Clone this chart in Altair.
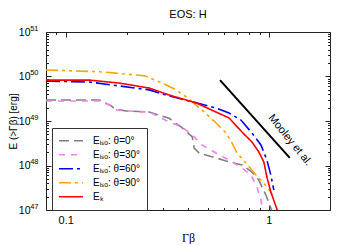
import altair as alt
import pandas as pd

# ---------------- data ----------------
series_names = ["Eᵢₛₒ: θ=0°", "Eᵢₛₒ: θ=30°", "Eᵢₛₒ: θ=60°", "Eᵢₛₒ: θ=90°", "Eₖ"]
series_colors = ["#808080", "#ee82ee", "#0000ff", "#ffa500", "#ff0000"]
series_dashes = [[10, 5], [6, 6], [14, 4, 3, 4], [12, 4, 3, 4, 3, 4], [1, 0]]

gb_0 = [0.08, 0.147, 0.168, 0.174, 0.199, 0.258, 0.323, 0.375, 0.42, 0.429, 0.454,
        0.55, 0.616, 0.738, 0.826, 0.893, 0.967, 1.023, 1.03]
e_0 = [2.96e49, 2.96e49, 2.17e49, 1.86e49, 1.68e49, 1.59e49, 1.15e49, 7.0e48, 4.37e48,
       2.47e48, 1.91e48, 1.48e48, 1.26e48, 1.03e48, 7.1e47, 4.7e47, 2.17e47, 1.11e47, 1.0e47]

gb_30 = [0.08, 0.147, 0.168, 0.178, 0.199, 0.258, 0.323, 0.375, 0.42, 0.469, 0.55,
         0.637, 0.738, 0.816, 0.873, 0.914, 0.93]
e_30 = [2.82e49, 2.82e49, 2.17e49, 1.77e49, 1.68e49, 1.59e49, 9.5e48, 7.3e48, 4.84e48,
        2.89e48, 1.91e48, 1.33e48, 8.8e47, 6.1e47, 3.3e47, 1.68e47, 1.0e47]

gb_60 = [0.08, 0.131, 0.258, 0.323, 0.444, 0.55, 0.637, 0.729, 0.826, 0.914, 0.978,
         1.023, 1.058]
e_60 = [7.9e49, 7.5e49, 5.0e49, 3.65e49, 2.54e49, 1.96e49, 1.51e49, 1.05e49, 5.37e48,
        2.89e48, 1.33e48, 6.1e47, 2.8e47]

gb_90 = [0.08, 0.147, 0.244, 0.299, 0.35, 0.392, 0.469, 0.55, 0.616, 0.659, 0.697,
         0.771, 0.864, 0.945, 1.023, 1.034]
e_90 = [1.40e50, 1.28e50, 1.04e50, 7.1e49, 5.0e49, 3.46e49, 1.77e49, 9.0e48, 5.37e48,
        3.2e48, 1.91e48, 1.14e48, 6.1e47, 4.0e47, 2.54e47, 2.17e47]

gb_k = [0.08, 0.131, 0.184, 0.258, 0.323, 0.439, 0.637, 0.738, 0.826, 0.893, 0.945,
        0.978, 1.023, 1.1]
e_k = [8.3e49, 8.3e49, 7.1e49, 5.5e49, 3.84e49, 2.54e49, 1.17e49, 5.66e48, 3.37e48,
       2.01e48, 1.2e48, 5.5e47, 2.54e47, 1.0e47]

gb_mooley = [0.575, 1.268]
e_mooley = [8.3e49, 1.48e48]
mooley_label = ["Mooley et al."]
mooley_label_gb = [1.27]
mooley_label_e = [3.7e48]

x_major = [0.1, 1]
x_minor = [0.09, 0.2, 0.3, 0.4, 0.5, 0.6, 0.7, 0.8, 0.9, 2]
y_major = [1e47, 1e48, 1e49, 1e50, 1e51]
y_minor = [k * 10.0 ** p for p in range(47, 51) for k in range(2, 10)]

# ---------------- tables ----------------
rows = []
for name, xs, ys in zip(series_names, [gb_0, gb_30, gb_60, gb_90, gb_k],
                        [e_0, e_30, e_60, e_90, e_k]):
    for a, b in zip(xs, ys):
        rows.append({"series": name, "gb": a, "E": b})
df = pd.DataFrame(rows)
df_m = pd.DataFrame({"gb": gb_mooley, "E": e_mooley})
df_t = pd.DataFrame({"gb": mooley_label_gb, "E": mooley_label_e, "t": mooley_label})

FONT = "Liberation Sans"
xscale = alt.Scale(type="log", domain=[0.08, 2.0], nice=False)
yscale = alt.Scale(type="log", domain=[1e47, 1e51], nice=False)

MAJ, MIN = 5, 2.5


def ax(orient, values, size, labels=False, **kw):
    return alt.Axis(orient=orient, values=values, tickSize=size, offset=-size,
                    domain=False, grid=False, labels=labels, tickColor="#222",
                    tickWidth=1, labelFlush=False, labelOverlap=False, **kw)


legend_kw = dict(orient="none", legendX=6, legendY=96, title=None,
                 symbolType="stroke", symbolSize=576, symbolStrokeWidth=1.6,
                 labelFont=FONT, labelFontSize=10, labelColor="black",
                 strokeColor="#333", fillColor="white", padding=6, rowPadding=0,
                 clipHeight=13.5, labelOffset=9)

lines = alt.Chart(df).mark_line(clip=True, strokeWidth=1.6).encode(
    x=alt.X("gb:Q", scale=xscale,
            axis=ax("bottom", x_major, MAJ, labels=True, format="~g",
                    labelFont=FONT, labelFontSize=11, labelPadding=4,
                    labelColor="black", title="Γβ", titleFont="Liberation Serif",
                    titleFontSize=12, titleFontWeight="normal",
                    titleBaseline="middle", titleY=32, titleColor="black")),
    y=alt.Y("E:Q", scale=yscale,
            axis=ax("left", y_major, MAJ, labels=True, labelExpr="'10'",
                    labelFont=FONT, labelFontSize=10.5, labelPadding=16,
                    labelColor="black", title="E (>Γβ) [erg]", titleFont=FONT,
                    titleFontSize=10, titleFontWeight="normal",
                    titleBaseline="middle", titleX=-38, titleColor="black")),
    color=alt.Color("series:N", scale=alt.Scale(domain=series_names, range=series_colors),
                    legend=alt.Legend(**legend_kw)),
    strokeDash=alt.StrokeDash("series:N",
                              scale=alt.Scale(domain=series_names, range=series_dashes),
                              legend=alt.Legend(**legend_kw)),
)


def axis_layer(xa, ya):
    return alt.Chart(df).mark_point(opacity=0).encode(
        x=alt.X("gb:Q", scale=xscale, axis=xa),
        y=alt.Y("E:Q", scale=yscale, axis=ya))


l_minor = axis_layer(ax("bottom", x_minor, MIN, title=None),
                     ax("left", y_minor, MIN, title=None))
l_top = axis_layer(ax("top", x_major, MAJ, title=None),
                   ax("right", y_major, MAJ, title=None))
l_top_minor = axis_layer(ax("top", x_minor, MIN, title=None),
                         ax("right", y_minor, MIN, title=None))
l_exp = alt.Chart(df).mark_point(opacity=0).encode(
    x=alt.X("gb:Q", scale=xscale, axis=None),
    y=alt.Y("E:Q", scale=yscale,
            axis=alt.Axis(orient="left", values=y_major, ticks=False, tickSize=0,
                          domain=False, grid=False, labelFlush=False,
                          labelOverlap=False,
                          labelExpr="format(log(datum.value)/LN10, '.0f')",
                          labelFont=FONT, labelFontSize=7.5, labelPadding=8,
                          labelOffset=-4, labelColor="black", title=None)))

mooley = alt.Chart(df_m).mark_line(color="black", strokeWidth=2).encode(
    x=alt.X("gb:Q", scale=xscale, axis=None),
    y=alt.Y("E:Q", scale=yscale, axis=None))

mooley_txt = alt.Chart(df_t).mark_text(angle=51, fontSize=11, font=FONT,
                                       color="black", align="center",
                                       baseline="middle").encode(
    x=alt.X("gb:Q", scale=xscale, axis=None),
    y=alt.Y("E:Q", scale=yscale, axis=None),
    text="t:N")

chart = alt.layer(lines, mooley, mooley_txt, l_minor, l_top, l_top_minor, l_exp).resolve_axis(
    x="independent", y="independent"
).properties(
    width=284, height=178,
    title=alt.Title("EOS: H", font=FONT, fontSize=11, fontWeight="normal",
                    color="black", offset=4),
    autosize=alt.AutoSizeParams(type="none"),
    padding={"left": 38, "top": 24, "right": 12, "bottom": 34},
).configure_view(stroke="#222", strokeWidth=1)

chart.save("out.html", embed_options={"renderer": "svg", "actions": False})
